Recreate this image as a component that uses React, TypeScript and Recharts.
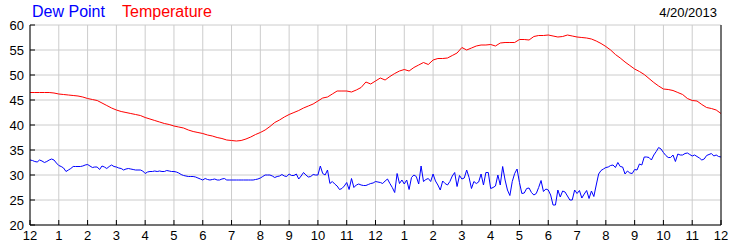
import React from 'react';
import { LineChart, Line, XAxis, YAxis, CartesianGrid } from 'recharts';

// hours since midnight, one tick per hour
const hourTicks = [0, 1, 2, 3, 4, 5, 6, 7, 8, 9, 10, 11, 12, 13, 14, 15, 16, 17, 18, 19, 20, 21, 22, 23, 24];
const degreeTicks = [20, 25, 30, 35, 40, 45, 50, 55, 60];

// temperature, every 10 minutes from midnight
const temperature = [
  46.5, 46.5, 46.5, 46.5, 46.5, 46.4, 46.2, 46.1, 46.0, 45.9,
  45.8, 45.6, 45.3, 45.1, 44.9, 44.4, 43.9, 43.4, 43.0, 42.7,
  42.5, 42.3, 42.1, 41.9, 41.5, 41.2, 40.9, 40.6, 40.3, 40.1,
  39.8, 39.6, 39.4, 39.0, 38.7, 38.5, 38.3, 38.0, 37.8, 37.5,
  37.3, 37.0, 36.9, 36.8, 36.9, 37.2, 37.6, 38.1, 38.5, 39.0,
  39.7, 40.5, 41.0, 41.6, 42.1, 42.5, 42.9, 43.4, 43.8, 44.2,
  44.8, 45.4, 45.6, 46.2, 46.8, 46.8, 46.8, 46.6, 47.0, 47.5,
  48.6, 48.2, 48.8, 49.4, 49.0, 49.7, 50.3, 50.8, 51.1, 50.8,
  51.5, 52.0, 52.5, 52.1, 53.0, 53.3, 53.3, 53.4, 53.9, 54.4,
  55.5, 55.0, 55.4, 55.8, 56.0, 56.0, 56.1, 55.8, 56.4, 56.5,
  56.5, 56.5, 57.1, 57.1, 57.0, 57.7, 57.9, 57.9, 58.0, 57.8,
  57.6, 57.7, 58.0, 57.8, 57.6, 57.5, 57.4, 57.2, 56.8, 56.3,
  55.7, 55.0, 54.1, 53.4, 52.6, 51.9, 51.2, 50.7, 50.1, 49.3,
  48.5, 47.8, 47.2, 47.1, 46.9, 46.5, 46.1, 45.3, 44.9, 44.8,
  44.1, 43.5, 43.3, 43.0, 42.3,
];

// dew point, every 5 minutes from midnight (one row per hour)
const dewPoint = [
  33.0, 32.9, 32.7, 32.6, 33.0, 32.8, 32.5, 32.7, 33.0, 33.2, 33.0, 32.4,
  31.9, 31.7, 31.4, 30.7, 31.0, 31.3, 31.7, 31.7, 31.7, 31.7, 31.8, 32.0,
  32.1, 31.8, 31.5, 31.6, 31.6, 31.1, 31.8, 31.6, 31.3, 31.7, 32.0, 31.7,
  31.6, 31.4, 31.3, 31.0, 31.2, 31.3, 31.2, 31.1, 31.0, 31.0, 31.0, 30.8,
  30.3, 30.6, 30.7, 30.7, 30.8, 30.7, 30.8, 30.7, 30.7, 30.9, 30.8, 30.7,
  30.7, 30.6, 30.4, 30.1, 29.9, 29.8, 29.7, 29.7, 29.7, 29.6, 29.4, 29.2,
  29.0, 29.3, 29.1, 29.0, 29.1, 29.2, 29.0, 29.0, 29.2, 29.3, 29.0, 29.0,
  29.0, 29.0, 29.0, 29.0, 29.0, 29.0, 29.0, 29.0, 29.0, 29.0, 29.1, 29.2,
  29.4, 29.7, 30.0, 30.0, 30.0, 29.8, 29.5, 29.7, 29.8, 30.1, 29.8, 29.7,
  30.2, 29.9, 29.9, 30.2, 29.2, 29.8, 30.5, 30.0, 29.6, 29.7, 30.1, 30.0,
  30.0, 31.8, 30.3, 30.0, 31.0, 28.3, 28.7, 28.2, 27.8, 27.1, 27.3, 27.8,
  28.5, 27.1, 29.3, 27.5, 28.0, 28.2, 28.0, 27.9, 27.9, 28.1, 28.3, 28.4,
  28.7, 28.6, 28.5, 28.3, 28.8, 29.2, 28.3, 27.5, 26.5, 30.3, 28.3, 29.0,
  28.2, 29.0, 27.1, 29.5, 30.0, 29.7, 28.2, 31.8, 28.7, 29.1, 29.3, 28.7,
  30.2, 28.8, 28.0, 27.0, 28.8, 28.3, 28.0, 28.7, 29.8, 30.5, 27.7, 29.9,
  29.2, 29.4, 31.0, 29.5, 27.3, 28.7, 28.3, 28.6, 30.2, 28.0, 30.5, 30.5,
  27.3, 27.5, 27.8, 30.0, 28.0, 31.7, 29.0, 27.0, 25.9, 28.7, 30.3, 31.2,
  28.5, 26.3, 26.4, 27.3, 27.4, 26.5, 26.0, 26.3, 27.5, 28.9, 26.7, 27.2,
  27.0, 26.0, 24.0, 24.0, 27.0, 25.6, 26.8, 26.6, 25.8, 25.0, 25.0, 27.0,
  26.3, 26.9, 25.4, 26.2, 26.9, 25.3, 26.8, 25.7, 28.0, 30.2, 30.9, 31.2,
  31.5, 31.6, 31.9, 32.0, 31.5, 32.5, 31.7, 31.6, 30.2, 30.8, 30.4, 30.3,
  31.1, 31.0, 32.2, 32.0, 33.6, 33.6, 33.5, 33.0, 34.0, 34.7, 35.5, 35.2,
  34.5, 33.9, 33.5, 33.5, 34.0, 32.7, 34.2, 34.0, 34.0, 34.3, 34.4, 34.1,
  33.8, 34.0, 33.7, 33.4, 33.0, 33.2, 33.9, 34.1, 34.3, 33.8, 34.0, 33.7,
  33.6,
];

const tempData = temperature.map((v, i) => ({ hour: i / 6, value: v }));
const dewData = dewPoint.map((v, i) => ({ hour: i / 12, value: v }));

const hourLabel = (h: number) => (h % 12 === 0 ? '12' : String(h % 12));

const FONT = '"Liberation Sans", Arial, sans-serif';
const tickStyle = { fill: '#000', fontSize: 13, fontFamily: FONT };

export default function App() {
  return (
    <div style={{ position: 'absolute', left: 0, top: 0, width: 750, height: 250, background: '#fff', fontFamily: FONT }}>
      <div style={{ position: 'absolute', left: 32, top: 3, fontSize: 16, color: '#0000ff', whiteSpace: 'nowrap' }}>Dew Point</div>
      <div style={{ position: 'absolute', left: 122, top: 3, fontSize: 16, color: '#ff0000', whiteSpace: 'nowrap' }}>Temperature</div>
      <div style={{ position: 'absolute', right: 33, top: 5, fontSize: 13, color: '#000', whiteSpace: 'nowrap' }}>4/20/2013</div>

      <LineChart width={750} height={250} margin={{ top: 25, right: 0, bottom: 0, left: 0 }}>
        <CartesianGrid stroke="#cccccc" xAxisId="bottom" yAxisId="left" />
        <XAxis
          xAxisId="bottom"
          type="number"
          dataKey="hour"
          domain={[0, 24]}
          ticks={hourTicks}
          interval={0}
          tickFormatter={hourLabel}
          height={25}
          stroke="#000"
          tickSize={-5}
          tickMargin={11}
          tick={tickStyle}
        />
        <XAxis
          xAxisId="top"
          orientation="top"
          type="number"
          dataKey="hour"
          domain={[0, 24]}
          ticks={hourTicks}
          interval={0}
          height={0}
          stroke="#000"
          tickSize={-5}
          tick={false}
        />
        <YAxis
          yAxisId="left"
          domain={[20, 60]}
          ticks={degreeTicks}
          interval={0}
          width={30}
          stroke="#000"
          tickSize={-5}
          tickMargin={11}
          tick={tickStyle}
        />
        <YAxis
          yAxisId="right"
          orientation="right"
          domain={[20, 60]}
          ticks={degreeTicks}
          interval={0}
          width={29}
          stroke="#000"
          tickSize={-5}
          tickMargin={11}
          tick={tickStyle}
        />
        <Line
          xAxisId="bottom"
          yAxisId="left"
          data={dewData}
          dataKey="value"
          type="linear"
          stroke="#0000ff"
          strokeWidth={1}
          dot={false}
          isAnimationActive={false}
        />
        <Line
          xAxisId="bottom"
          yAxisId="left"
          data={tempData}
          dataKey="value"
          type="linear"
          stroke="#ff0000"
          strokeWidth={1}
          dot={false}
          isAnimationActive={false}
        />
      </LineChart>
    </div>
  );
}
